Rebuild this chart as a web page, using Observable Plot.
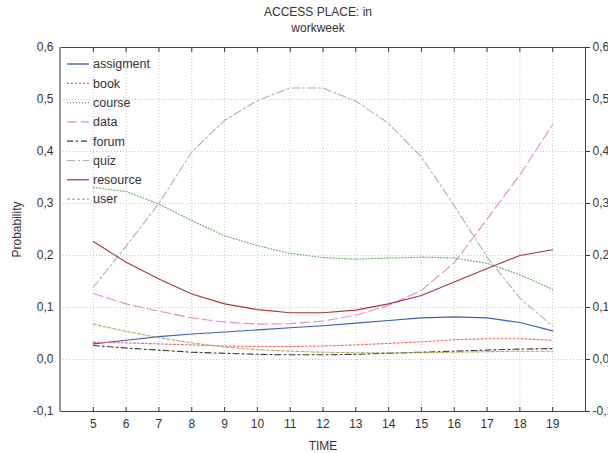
<!DOCTYPE html>
<html>
<head>
<meta charset="utf-8">
<script src="https://cdn.jsdelivr.net/npm/d3@7"></script>
<script src="https://cdn.jsdelivr.net/npm/@observablehq/plot@0.6"></script>
<style>
  html, body { margin: 0; padding: 0; background: #fff; }
  #chart { position: relative; width: 608px; height: 453px; }
  svg { font-family: "Liberation Sans", Arial, sans-serif; }
</style>
</head>
<body>
<div id="chart"></div>
<script>
const hours = [5, 6, 7, 8, 9, 10, 11, 12, 13, 14, 15, 16, 17, 18, 19];
const seriesNames = ["assigment", "book", "course", "data", "forum", "quiz", "resource", "user"];
const assigment = [0.030, 0.037, 0.044, 0.049, 0.053, 0.057, 0.061, 0.065, 0.070, 0.075, 0.080, 0.082, 0.080, 0.071, 0.055];
const book      = [0.033, 0.032, 0.030, 0.028, 0.026, 0.025, 0.025, 0.026, 0.028, 0.031, 0.034, 0.038, 0.040, 0.040, 0.037];
const course    = [0.331, 0.323, 0.299, 0.267, 0.238, 0.219, 0.204, 0.196, 0.193, 0.195, 0.197, 0.195, 0.185, 0.163, 0.135];
const dataS     = [0.127, 0.107, 0.093, 0.080, 0.072, 0.068, 0.069, 0.074, 0.085, 0.104, 0.133, 0.186, 0.270, 0.355, 0.452];
const forum     = [0.027, 0.022, 0.018, 0.014, 0.012, 0.010, 0.009, 0.009, 0.010, 0.012, 0.014, 0.016, 0.018, 0.020, 0.021];
const quiz      = [0.139, 0.218, 0.300, 0.399, 0.460, 0.498, 0.522, 0.522, 0.497, 0.454, 0.389, 0.296, 0.197, 0.118, 0.064];
const resource  = [0.227, 0.187, 0.155, 0.126, 0.107, 0.096, 0.090, 0.090, 0.095, 0.107, 0.123, 0.149, 0.175, 0.200, 0.211];
const user      = [0.068, 0.054, 0.042, 0.032, 0.024, 0.019, 0.016, 0.014, 0.013, 0.013, 0.013, 0.014, 0.015, 0.016, 0.016];
const yTicks = [-0.1, 0, 0.1, 0.2, 0.3, 0.4, 0.5, 0.6];

const seriesValues = {assigment, book, course, data: dataS, forum, quiz, resource, user};
const styles = {
  assigment: {stroke: "#3d5fb5", dash: null, legend: "#27479a"},
  book:      {stroke: "#ff6262", dash: "2,2"},
  course:    {stroke: "#5aab5a", dash: "1,2"},
  data:      {stroke: "#e08ad0", dash: "10,4"},
  forum:     {stroke: "#3a3a3a", dash: "6,3,2,3"},
  quiz:      {stroke: "#b0b0b0", dash: "8,3,2,3"},
  resource:  {stroke: "#a83838", dash: null},
  user:      {stroke: "#b8a860", dash: "3,2"}
};

const fmt = v => d3.format(".1f")(v).replace(".", ",").replace("\u2212", "-");

const lineMarks = seriesNames.map(name => {
  const rows = hours.map((h, i) => ({time: h, p: seriesValues[name][i]}));
  return Plot.line(rows, {
    x: "time", y: "p", curve: "linear",
    stroke: styles[name].stroke, strokeWidth: 1.1,
    strokeDasharray: styles[name].dash || undefined
  });
});

const plot = Plot.plot({
  width: 608,
  height: 453,
  marginLeft: 60,
  marginRight: 23,
  marginTop: 47,
  marginBottom: 42,
  style: {fontFamily: "Liberation Sans, Arial, sans-serif", fontSize: "12px", color: "#333", background: "#fff"},
  x: {domain: [4, 20]},
  y: {domain: [-0.1, 0.6]},
  marks: [
    Plot.gridX(hours, {stroke: "#c8c8c8", strokeOpacity: 1, strokeDasharray: "1,2"}),
    Plot.gridY(yTicks, {stroke: "#c8c8c8", strokeOpacity: 1, strokeDasharray: "1,2"}),
    ...lineMarks,
    Plot.axisX(hours, {anchor: "bottom", tickSize: 0, tickPadding: 8, fill: "#333", fontSize: 12, label: "TIME", labelAnchor: "center", labelOffset: 38, labelArrow: "none"}),
    Plot.axisX(hours, {anchor: "bottom", tickSize: 4, text: null, dy: -4, label: null, stroke: "#333"}),
    Plot.axisX(hours, {anchor: "top", tickSize: 4, text: null, dy: 4, label: null, stroke: "#333"}),
    Plot.axisY(yTicks, {anchor: "left", tickSize: 0, tickPadding: 7, tickFormat: fmt, fill: "#333", fontSize: 12, label: "Probability", labelAnchor: "center", labelOffset: 48, labelArrow: "none"}),
    Plot.axisY(yTicks, {anchor: "right", tickSize: 4, tickPadding: 3, tickFormat: fmt, fill: "#333", fontSize: 12, label: null, stroke: "#333"}),
    Plot.frame({stroke: "#444", strokeWidth: 1})
  ]
});

document.getElementById("chart").appendChild(plot);

// Left frame edge drawn thicker grey as in reference
const svg = d3.select(plot);
svg.append("line")
  .attr("x1", 60).attr("x2", 60).attr("y1", 47).attr("y2", 411)
  .attr("stroke", "#9a9a9a").attr("stroke-width", 2);

// Title
const title = svg.append("g").attr("fill", "#333").attr("font-size", 12).attr("text-anchor", "middle");
title.append("text").attr("x", 318).attr("y", 16).text("ACCESS PLACE: in");
title.append("text").attr("x", 318).attr("y", 32).text("workweek");

// Legend inside the plot
const lg = svg.append("g").attr("font-size", 12.5).attr("fill", "#333").attr("text-anchor", "start");
seriesNames.forEach((name, i) => {
  const y = 64 + i * 19.3;
  lg.append("line")
    .attr("x1", 67).attr("x2", 89).attr("y1", y).attr("y2", y)
    .attr("stroke", styles[name].legend || styles[name].stroke)
    .attr("stroke-width", 1.2)
    .attr("stroke-dasharray", styles[name].dash || null);
  lg.append("text").attr("x", 93).attr("y", y).attr("dy", "0.35em").text(name);
});
</script>
</body>
</html>
